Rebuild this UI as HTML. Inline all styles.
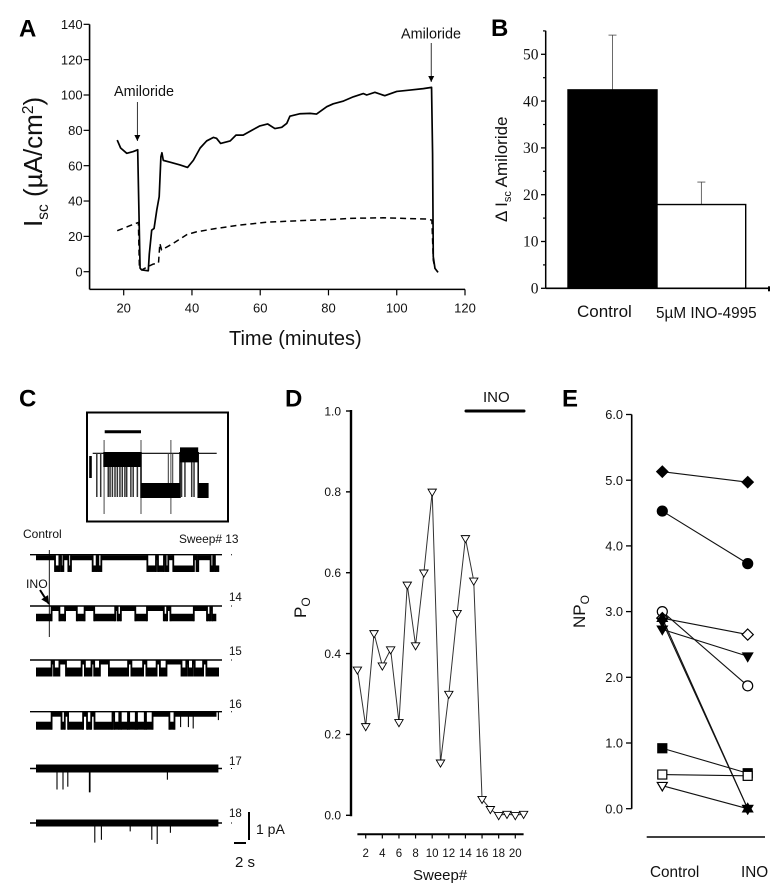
<!DOCTYPE html>
<html lang="en">
<head>
<meta charset="utf-8">
<title>Amiloride-sensitive current and channel activity</title>
<style>
html,body{margin:0;padding:0;background:#fff;width:783px;height:890px;overflow:hidden}
svg{display:block}
text{font-family:"Liberation Sans",sans-serif;fill:#111}
.letter{font-size:24px;font-weight:700;fill:#000}
.serif{font-family:"Liberation Serif",serif}
</style>
</head>
<body>
<svg id="figure" xmlns="http://www.w3.org/2000/svg" width="783" height="890" viewBox="0 0 783 890">
  <text class="letter" x="19" y="36.5">A</text>
  <text class="letter" x="491" y="36">B</text>
  <text class="letter" x="19" y="406.5">C</text>
  <text class="letter" x="285" y="406.5">D</text>
  <text class="letter" x="562" y="406.5">E</text>

  <text transform="translate(42,227) rotate(-90)" font-size="26">I<tspan font-size="15.5" dy="6">sc</tspan><tspan dy="-6"> (µA/cm</tspan><tspan font-size="15.5" dy="-9">2</tspan><tspan dy="9">)</tspan></text>
  <text x="229" y="345" font-size="20">Time (minutes)</text>
  <text x="114" y="96" font-size="14.4">Amiloride</text>
  <text x="401" y="38.5" font-size="14.4">Amiloride</text>

  <text transform="translate(507,222) rotate(-90)" font-size="17">Δ I<tspan font-size="11" dy="4">sc</tspan><tspan dy="-4"> Amiloride</tspan></text>
  <text x="577" y="317" font-size="17">Control</text>
  <text x="656" y="318" font-size="15.3">5µM INO-4995</text>

  <text x="23" y="538" font-size="12">Control</text>
  <text x="179" y="543" font-size="11.9">Sweep# 13</text>
  <text x="26" y="588" font-size="12.2">INO</text>
  <text x="229" y="601" font-size="11.5">14</text>
  <text x="229" y="655" font-size="11.5">15</text>
  <text x="229" y="708" font-size="11.5">16</text>
  <text x="229" y="765" font-size="11.5">17</text>
  <text x="229" y="817" font-size="11.5">18</text>
  <text x="256" y="834" font-size="14">1 pA</text>
  <text x="235" y="867" font-size="15">2 s</text>

  <text transform="translate(306,618) rotate(-90)" font-size="17">P<tspan font-size="12" dy="4">O</tspan></text>
  <text x="413" y="880" font-size="15">Sweep#</text>
  <text x="483" y="402" font-size="15">INO</text>

  <text transform="translate(585,628) rotate(-90)" font-size="17">NP<tspan font-size="12" dy="4">O</tspan></text>
  <text x="650" y="877" font-size="15.3">Control</text>
  <text x="741" y="877" font-size="15.3">INO</text>
</svg>
<script>
// ---------- Panel A data ----------
var aSolidTime = [18.1,19.1,20.9,22.8,24.1,24.4,24.8,25.3,27.2,27.5,28.2,28.9,29.7,30.4,30.9,31.2,31.6,33.6,36.5,38.7,40.4,42.4,44.3,46.3,47.2,48.4,51.2,52.9,55,57.5,59.9,62.2,64.3,66.3,67.8,68.7,71.7,74.6,76.5,79.5,81.4,84.4,87.3,90.2,91.2,93.6,96.5,100,103.9,107.8,110.2,110.5,110.7,111.2,112.1];
var aSolidValue = [74.5,70,67,68,69,40,2,1,0.5,10,23.5,24.5,35,42.5,65,67.3,63,62,60.4,59,63,70,74,76,75.5,72.6,74,77.3,77.3,80,82.5,83.6,81,81.7,84,88,89.4,89.6,89.2,93.4,95,96.6,99,100.8,100,101.5,99.6,102,102.8,103.6,104.3,67,8.5,1.9,-0.4];
var aDashedTime = [18.1,24.3,24.6,25.3,27.2,28.5,30.2,30.6,31.1,34.5,38.5,41.4,47.2,54,61.9,71.7,81.4,86.3,96,108.8,110.3,110.7,111.2];
var aDashedValue = [23.2,27.9,2,1,3,4.2,5,16,12.3,16,21,22.6,24.5,26.4,28,28.9,29.6,30.2,30.5,29.8,29.2,6.6,1.9];
var aXTicks = [20,40,60,80,100,120];
var aYTicks = [0,20,40,60,80,100,120,140];

// ---------- Panel B data ----------
var bMeans = [42.4,17.9];
var bErrors = [54.1,22.7];
var bYTicks = [0,10,20,30,40,50];
var bMinorTicks = [5,15,25,35,45,55];

// ---------- Panel C data: runs of [seconds, state] (0 closed, 1 open) ----------
var sweep13Runs = [[3.17,0],[0.72,1],[0.28,0],[0.39,1],[0.83,0],[0.44,1],[3.61,0],[0.67,1],[0.28,0],[0.5,1],[7.67,0],[1.44,1],[0.33,0],[1,1],[0.28,0],[0.44,1],[0.83,0],[3.44,1],[0.44,0],[0.28,1],[2.06,0],[0.44,1],[0.28,0],[0.72,1]];
var sweep14Runs = [[2.6,1],[1.3,0],[0.95,1],[1.95,0],[1.3,1],[1.6,0],[3.5,1],[0.4,0],[0.55,1],[2.4,0],[1.95,1],[2.8,0],[0.55,1],[0.55,0],[3.9,1],[2.2,0],[0.55,1],[0.28,0],[0.72,1]];
var sweep15Runs = [[2.6,1],[0.4,0],[0.9,1],[1.1,0],[2.6,1],[0.55,0],[1.1,1],[0.45,0],[0.95,1],[1.5,0],[3.2,1],[0.55,0],[1.95,1],[0.55,0],[1.7,1],[0.55,0],[1.1,1],[2.5,0],[0.8,1],[0.3,0],[0.8,1],[0.3,0],[1.4,1],[0.55,0],[2.1,1]];
var sweep16Runs = [[2.6,1],[1.65,0],[0.55,1],[0.55,0],[2.5,1],[0.65,0],[0.7,1],[0.55,0],[3,1],[0.28,0],[0.85,1],[0.25,0],[1.2,1],[0.2,0],[1.1,1],[0.2,0],[1.3,1],[0.2,0],[1.1,1],[2.8,0],[0.85,1],[7,0]];
var sweep17Runs = [[30.4,0]];
var sweep18Runs = [[30.4,0]];
var sweep16SpikeTimes = [24.1,25.4,26.2,30.4];
var sweep16SpikeDepths = [0.55,0.55,0.6,0.3];
var sweep17SpikeTimes = [3.5,4.5,5.3,8.9,9,21.9];
var sweep17SpikeDepths = [0.75,0.75,0.65,0.85,0.85,0.4];
var sweep18SpikeTimes = [9.8,10.9,15.7,19.3,20.2,22.4];
var sweep18SpikeDepths = [0.7,0.6,0.3,0.6,0.75,0.35];
var insetRuns = [[1.45,0],[1.5,1],[0.7,-0.15],[0.4,1]];
var insetSpikeTimes = [-0.25,-0.1,0.19,0.26,0.35,0.45,0.54,0.64,0.73,0.83,0.9,1.06,1.15,1.31,3.01,3.14,3.4,3.49];
var insetUpTimes = [2.5,2.67];
var insetGapTimes = [0.03,1.45,2.6];

// ---------- Panel D data ----------
var dSweeps = [1,2,3,4,5,6,7,8,9,10,11,12,13,14,15,16,17,18,19,20,21];
var dOpenProbability = [0.36,0.22,0.45,0.37,0.41,0.23,0.57,0.42,0.6,0.8,0.13,0.3,0.5,0.685,0.58,0.04,0.015,0,0.003,0,0.003];
var dXTicks = [2,4,6,8,10,12,14,16,18,20];
var dYTicks = [0,0.2,0.4,0.6,0.8,1];

// ---------- Panel E data ----------
var eControl = [5.13,4.53,3,2.9,2.73,2.9,2.85,0.92,0.52,0.35];
var eIno = [4.97,3.73,1.87,2.65,2.32,0,0,0.54,0.5,0];
var eYTicks = [0,1,2,3,4,5,6];
var eMarkers = ['diamond-fill','circle-fill','circle-open','diamond-open','down-fill','up-fill','down-fill','square-fill','square-open','down-open'];
var eInoDrawOrder = [9,0,1,2,3,4,5,6,7,8];

// ---------- Helpers ----------
var NS = 'http://www.w3.org/2000/svg';
var svg = document.getElementById('figure');
function add(tag, attrs, parent) {
  var el = document.createElementNS(NS, tag);
  for (var k in attrs) el.setAttribute(k, attrs[k]);
  (parent || svg).appendChild(el);
  return el;
}
function segment(name, x1, y1, x2, y2, width, color, parent) {
  var el = add('line', {x1:x1, y1:y1, x2:x2, y2:y2, stroke:color || '#000', 'stroke-width':width || 1}, parent);
  
  
  return el;
}
function label(name, x, y, str, size, anchor, cls) {
  var el = add('text', {x:x, y:y, 'font-size':size, 'text-anchor':anchor || 'middle'});
  if (cls) el.setAttribute('class', cls);
  el.textContent = str;
  
  
  return el;
}
function polyline(name, xs, ys, sx, sy, width, color, dash) {
  var pts = xs.map(function (v, i) { return sx(v) + ',' + sy(ys[i]); }).join(' ');
  var el = add('polyline', {points:pts, fill:'none', stroke:color, 'stroke-width':width, 'stroke-linejoin':'round'});
  if (dash) el.setAttribute('stroke-dasharray', dash);
  
  
  return el;
}
function arrow(name, x1, y1, x2, y2, width, head) {
  segment(name, x1, y1, x2, y2, width);
  var a = Math.atan2(y2 - y1, x2 - x1), h = head;
  var p = [[x2, y2],
    [x2 - h * Math.cos(a) + h * 0.5 * Math.sin(a), y2 - h * Math.sin(a) - h * 0.5 * Math.cos(a)],
    [x2 - h * Math.cos(a) - h * 0.5 * Math.sin(a), y2 - h * Math.sin(a) + h * 0.5 * Math.cos(a)]];
  var el = add('polygon', {points:p.map(function (q) { return q.join(','); }).join(' '), fill:'#000'});
  
  
}

// ---------- Panel A ----------
function aX(v) { return 123.7 + (v - 20) * 3.413; }
function aY(v) { return 271.7 - v * 1.767; }
segment('panel-a-y-axis', aX(10), aY(-10), aX(10), aY(140), 1.6);
segment('panel-a-x-axis', aX(10), aY(-10), aX(120), aY(-10), 1.6);
aYTicks.forEach(function (t) {
  segment('panel-a-y-tick', aX(10) - 6, aY(t), aX(10), aY(t), 1.2);
  label('panel-a-y-tick-label', aX(10) - 7, aY(t) + 4.7, String(t), 13, 'end');
});
aXTicks.forEach(function (t) {
  segment('panel-a-x-tick', aX(t), aY(-10), aX(t), aY(-10) + 6, 1.2);
  label('panel-a-x-tick-label', aX(t), aY(-10) + 23, String(t), 13);
});
polyline('control-current-trace', aSolidTime, aSolidValue, aX, aY, 1.7, '#000');
polyline('ino-current-trace', aDashedTime, aDashedValue, aX, aY, 1.5, '#000', '6 4');
arrow('amiloride-arrow-first', aX(24), 102, aX(24), 141, 0.8, 6);
arrow('amiloride-arrow-second', aX(110.1), 43, aX(110.1), 82, 0.8, 6);

// ---------- Panel B ----------
function bY(v) { return 288.3 - v * 4.68; }
var bLeft = [568, 657], bRight = [657, 745.7];
segment('panel-b-y-axis', 545.7, bY(0), 545.7, 30.7, 1.5);
bYTicks.forEach(function (t) {
  segment('panel-b-y-tick', 541, bY(t), 545.7, bY(t), 1.3);
  label('panel-b-y-tick-label', 538.5, bY(t) + 5.2, String(t), 15.5, 'end', 'serif');
});
bMinorTicks.forEach(function (t) {
  segment('panel-b-minor-tick', 543, bY(t), 545.7, bY(t), 1.2);
});
bMeans.forEach(function (v, i) {
  var cx = (bLeft[i] + bRight[i]) / 2;
  segment('panel-b-error-bar', cx, bY(v), cx, bY(bErrors[i]), 0.8, '#444');
  segment('panel-b-error-cap', cx - 4, bY(bErrors[i]), cx + 4, bY(bErrors[i]), 0.8, '#444');
  var bar = add('rect', {x:bLeft[i], y:bY(v), width:bRight[i] - bLeft[i], height:bY(0) - bY(v), fill:i === 0 ? '#000' : '#fff', stroke:'#000', 'stroke-width':1.4});
  
  
});
segment('panel-b-x-axis', 545.7, bY(0), 769, bY(0), 1.6);
segment('panel-b-x-axis-end', 769, bY(0) - 2, 769, bY(0) + 3, 2);

// ---------- Panel C ----------
function traceX(t) { return 36 + t * 6; }
function drawRuns(name, runs, xAt, closedY, openY, closedThick, openThick, connector) {
  var t = 0, prevY = null;
  runs.forEach(function (r) {
    var y = closedY + r[1] * (openY - closedY);
    var thick = r[1] > 0.5 ? openThick : closedThick;
    if (prevY !== null && prevY !== y) segment(name + '-transition', xAt(t), closedY - closedThick / 2, xAt(t), openY + openThick / 2, connector);
    segment(name + '-level', xAt(t), y, xAt(t + r[0]), y, thick);
    t += r[0];
    prevY = y;
  });
}
function drawSweep(name, runs, baseline, closedOffset, openOffset, closedThick, openThick, times, depths) {
  segment(name + '-baseline', 30, baseline, 222, baseline, 1.4);
  segment(name + '-end-tick', 231, baseline, 232, baseline, 1);
  drawRuns(name, runs, traceX, baseline + closedOffset, baseline + openOffset, closedThick, openThick, 1.8);
  if (times) times.forEach(function (t, i) {
    segment(name + '-spike', traceX(t), baseline, traceX(t), baseline + depths[i] * 28, 1.1);
  });
}
drawSweep('sweep-13', sweep13Runs, 554.7, 3, 14, 5, 6.5);
drawSweep('sweep-14', sweep14Runs, 606, 2.5, 11.5, 5, 7.5);
drawSweep('sweep-15', sweep15Runs, 660, 2, 12, 5, 9);
drawSweep('sweep-16', sweep16Runs, 711.7, 2.5, 14, 5, 8, sweep16SpikeTimes, sweep16SpikeDepths);
drawSweep('sweep-17', sweep17Runs, 768.5, 0, 0, 8, 8, sweep17SpikeTimes, sweep17SpikeDepths);
drawSweep('sweep-18', sweep18Runs, 823, 0, 0, 7, 7, sweep18SpikeTimes, sweep18SpikeDepths);
segment('ino-application-line', 49.3, 550, 49.3, 637, 0.9);
arrow('ino-arrow', 40, 590, 49, 604, 2, 8);
segment('current-scale-bar', 249, 812, 249, 840, 2);
segment('time-scale-bar', 234, 843, 246, 843, 2);

var insetBox = add('rect', {x:87, y:412.5, width:141, height:109, fill:'#fff', stroke:'#000', 'stroke-width':2});


function insetX(t) { return 103.3 + t * 26; }
segment('inset-baseline', 92.7, 453.3, 216.7, 453.3, 1.2);
insetSpikeTimes.forEach(function (t) {
  segment('inset-opening-spike', insetX(t), 453, insetX(t), 497, 1.5, '#333');
});
insetUpTimes.forEach(function (t) {
  segment('inset-opening-spike', insetX(t), 453, insetX(t), 484, 1, '#333');
});
insetGapTimes.forEach(function (t) {
  segment('inset-closing-spike', insetX(t), 440, insetX(t), 514, 0.9, '#333');
});
drawRuns('inset-trace', insetRuns, insetX, 459.5, 490.5, 15, 15, 1.5);
segment('inset-marker-bar', 104.7, 431.7, 141, 431.7, 3);
segment('inset-scale-bar', 90.5, 456, 90.5, 478, 2.6);

// ---------- Panel D ----------
function dX(v) { return 357.4 + (v - 1) * 8.31; }
function dY(v) { return 815.3 - v * 404.3; }
segment('panel-d-y-axis', 351, dY(1) - 1, 351, dY(0) + 1, 2.4);
dYTicks.forEach(function (t) {
  segment('panel-d-y-tick', 346, dY(t), 351, dY(t), 1.4);
  label('panel-d-y-tick-label', 341, dY(t) + 4.3, t.toFixed(1), 12, 'end');
});
segment('panel-d-x-axis', dX(1), 834.3, dX(21), 834.3, 2);
dXTicks.forEach(function (t) {
  segment('panel-d-x-tick', dX(t), 834.3, dX(t), 838.5, 1.2);
  label('panel-d-x-tick-label', dX(t), 857, String(t), 11.5);
});
segment('ino-period-bar', 466, 411, 524, 411, 3).setAttribute('stroke-linecap', 'round');
polyline('open-probability-line', dSweeps, dOpenProbability, dX, dY, 1, '#333');
dSweeps.forEach(function (s, i) {
  var m = drawMarker('down-open', dX(s), dY(dOpenProbability[i]), 4.2, 0.9);
  
  
});

// ---------- Panel E ----------
function eY(v) { return 808.7 - v * 65.7; }
var eCtrlX = 662.3, eInoX = 747.7;
segment('panel-e-y-axis', 631.7, eY(6), 631.7, eY(0), 1.6);
eYTicks.forEach(function (t) {
  segment('panel-e-y-tick', 626, eY(t), 631.7, eY(t), 1.3);
  label('panel-e-y-tick-label', 623, eY(t) + 4.6, t.toFixed(1), 12.8, 'end');
});
segment('panel-e-x-axis', 646.7, 837, 765, 837, 1.6);
eControl.forEach(function (v, i) {
  segment('panel-e-series-line', eCtrlX, eY(v), eInoX, eY(eIno[i]), 1.1, '#111');
});
eControl.forEach(function (v, i) {
  var a = drawMarker(eMarkers[i], eCtrlX, eY(v), 5, 1.2);
  
  
});
eInoDrawOrder.forEach(function (i) {
  var b = drawMarker(eMarkers[i], eInoX, eY(eIno[i]), 5, 1.2);
  
  
});

function drawMarker(kind, cx, cy, r, sw) {
  var parts = kind.split('-'), shape = parts[0], filled = parts[1] === 'fill';
  var style = {fill:filled ? '#000' : '#fff', stroke:'#000', 'stroke-width':sw};
  if (shape === 'circle') {
    return add('circle', Object.assign({cx:cx, cy:cy, r:r}, style));
  }
  if (shape === 'square') {
    return add('rect', Object.assign({x:cx - r + 0.5, y:cy - r + 0.5, width:2 * r - 1, height:2 * r - 1}, style));
  }
  var pts;
  if (shape === 'diamond') {
    pts = [[cx, cy - r - 0.6], [cx + r + 0.6, cy], [cx, cy + r + 0.6], [cx - r - 0.6, cy]];
  } else if (shape === 'down') {
    pts = [[cx - r, cy - r * 0.65], [cx + r, cy - r * 0.65], [cx, cy + r * 1.05]];
  } else {
    pts = [[cx - r, cy + r * 0.65], [cx + r, cy + r * 0.65], [cx, cy - r * 1.05]];
  }
  return add('polygon', Object.assign({points:pts.map(function (p) { return p.join(','); }).join(' ')}, style));
}
</script>
</body>
</html>
